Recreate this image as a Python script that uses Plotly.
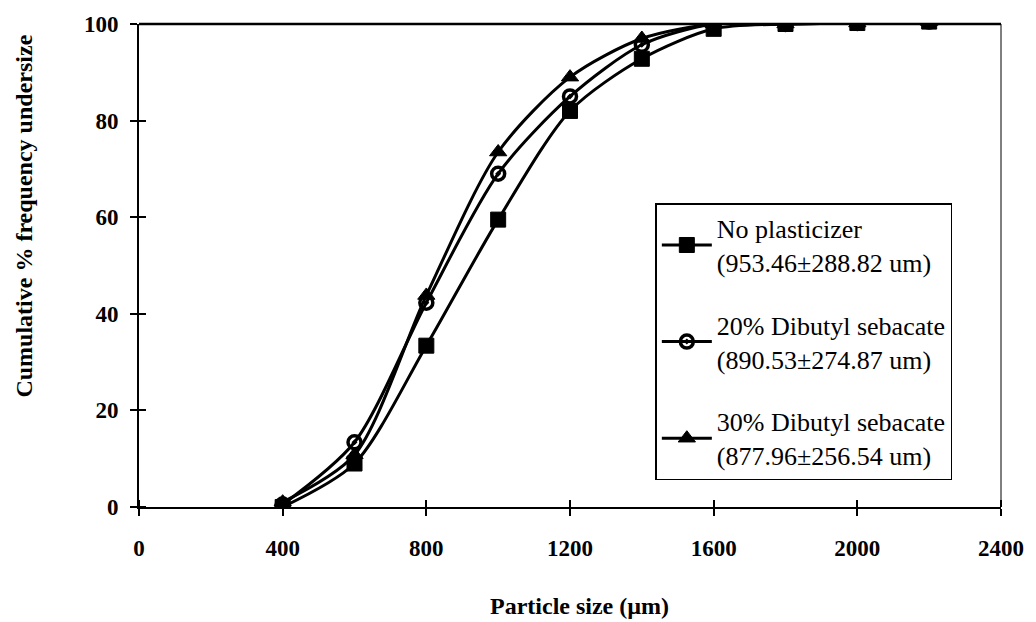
import plotly.graph_objects as go

particle_size = [400, 600, 800, 1000, 1200, 1400, 1600, 1800, 2000, 2200]
no_plasticizer = [0, 9, 33.4, 59.5, 82, 92.8, 99, 100, 100.2, 100.5]
dbs_20 = [0.5, 13.4, 42.3, 69, 85, 95.7, 100, 100, 100.2, 100.5]
dbs_30 = [1, 10.8, 43.8, 73.5, 89, 97, 100, 100, 100.2, 100.5]

names = ["No plasticizer<br>(953.46±288.82 um)",
         "20% Dibutyl sebacate<br>(890.53±274.87 um)",
         "30% Dibutyl sebacate<br>(877.96±256.54 um)"]
series = [no_plasticizer, dbs_20, dbs_30]
symbols = ["square", "circle-open-dot", "triangle-up"]
sizes = [15, 13, 15]
mline = [1, 3.5, 1]

x_ticks = [0, 400, 800, 1200, 1600, 2000, 2400]
x_ticklabels = ["0", "400", "800", "1200", "1600", "2000", "2400"]
y_ticks = [0, 20, 40, 60, 80, 100]

x_title = "Particle size (µm)"
y_title = "Cumulative % frequency undersize"

SERIF = "Liberation Serif, Times New Roman, serif"
TICKFONT = dict(family=SERIF, size=23, color="black", weight="bold")

# inner halves of the crossing tick marks (nudged so they are not merged with major ticks)
x_inner = [v + 0.01 if v < 2400 else v - 0.01 for v in x_ticks]
y_inner = [v + 0.001 if v < 100 else v - 0.001 for v in y_ticks]

fig = go.Figure()
for i, (nm, ys, sym, sz, lw) in enumerate(zip(names, series, symbols, sizes, mline)):
    fig.add_trace(go.Scatter(
        x=particle_size, y=ys, name=nm, mode="lines+markers",
        line=dict(color="black", width=3, shape="spline", smoothing=0.8),
        marker=dict(symbol=sym, size=sz, color="black",
                    line=dict(color="black", width=lw)),
        legendgroup=f"g{i}",
    ))

fig.add_annotation(text=x_title, xref="paper", yref="paper", x=0.511, y=-0.204,
                   showarrow=False, xanchor="center", yanchor="middle",
                   font=dict(family=SERIF, size=24, color="black", weight="bold"))
fig.add_annotation(text=y_title, xref="paper", yref="paper", x=-0.133, y=0.602,
                   showarrow=False, textangle=-90, xanchor="center", yanchor="middle",
                   font=dict(family=SERIF, size=24, color="black", weight="bold"))

fig.update_layout(
    width=1036, height=622,
    margin=dict(l=139, r=26, t=22, b=115),
    paper_bgcolor="white", plot_bgcolor="white",
    font=dict(family=SERIF, color="black"),
    showlegend=True,
    legend=dict(x=0.599, y=0.629, xanchor="left", yanchor="top",
                bordercolor="black", borderwidth=1.5, bgcolor="white",
                font=dict(family=SERIF, size=26, color="black"),
                tracegroupgap=26, itemwidth=50),
    xaxis=dict(range=[0, 2400], tickvals=x_ticks, ticktext=x_ticklabels,
               showgrid=False, zeroline=False, showline=True, linecolor="black",
               linewidth=2, ticks="outside", ticklen=7, tickwidth=2, tickcolor="black",
               ticklabelstandoff=12, tickfont=TICKFONT,
               minor=dict(tickvals=x_inner, ticks="inside", ticklen=7, tickwidth=2,
                          tickcolor="black", showgrid=False)),
    yaxis=dict(range=[0, 100], tickvals=y_ticks,
               showgrid=False, zeroline=False, showline=True, linecolor="black",
               linewidth=2, ticks="outside", ticklen=7, tickwidth=2, tickcolor="black",
               ticklabelstandoff=7, tickfont=TICKFONT,
               minor=dict(tickvals=y_inner, ticks="inside", ticklen=7, tickwidth=2,
                          tickcolor="black", showgrid=False)),
)

fig.add_shape(type="line", xref="x domain", yref="y domain", x0=0, x1=1, y0=1, y1=1,
              line=dict(color="black", width=2.5))
fig.add_shape(type="line", xref="x domain", yref="y domain", x0=1, x1=1, y0=0, y1=1,
              line=dict(color="black", width=1))

fig.write_html("out.html")
